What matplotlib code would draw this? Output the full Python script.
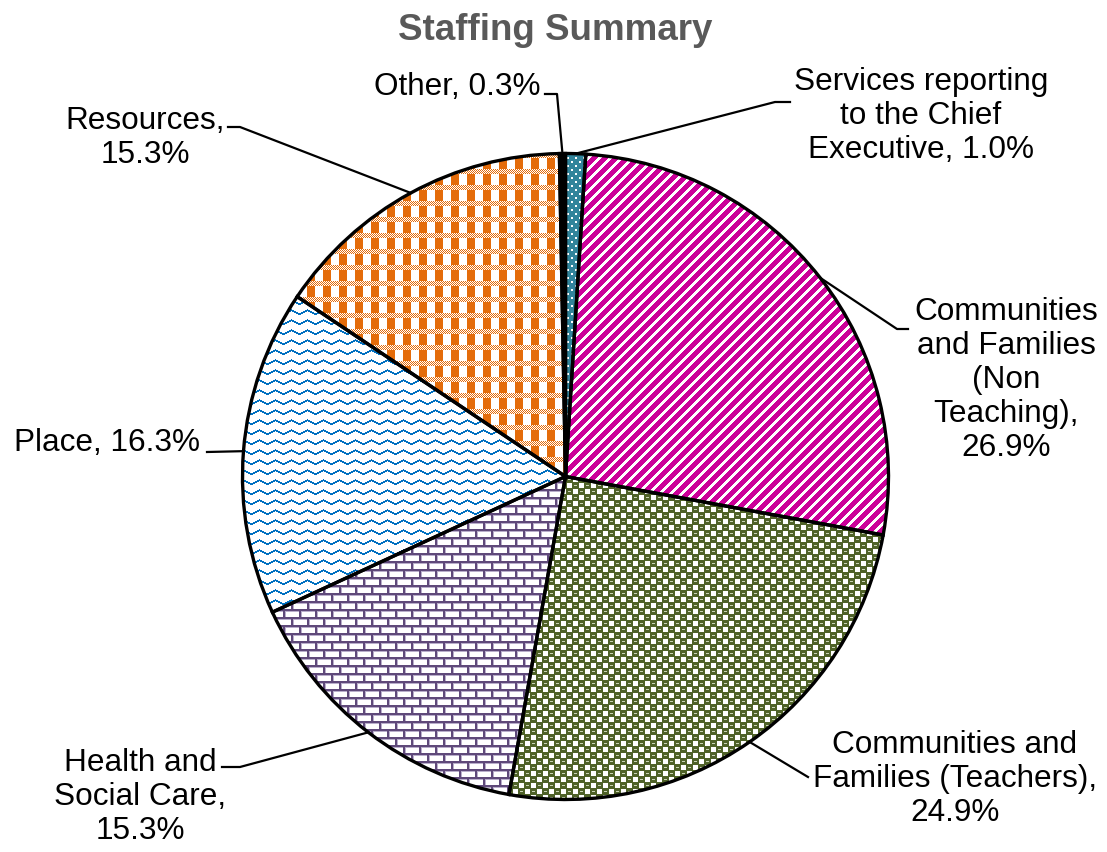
import numpy as np
import matplotlib.pyplot as plt
from matplotlib.colors import to_rgb

plt.rcParams['font.family'] = ['Liberation Sans', 'DejaVu Sans']

# data (clockwise from 12 o'clock)
names = ["Services reporting\nto the Chief\nExecutive", "Communities\nand Families\n(Non\nTeaching)",
         "Communities and\nFamilies (Teachers)", "Health and\nSocial Care", "Place", "Resources", "Other"]
shares = [1.0, 26.9, 24.9, 15.3, 16.3, 15.3, 0.3]
seps = [" ", "\n", "\n", "\n", " ", "\n", " "]
colors = ["#31849B", "#CC0099", "#4F6228", "#5F497A", "#0070C0", "#E46C0A", "#000000"]

W, H = 1107, 853
CX, CY, R = 565.5, 477.5, 323.0   # pie centre / radius in pixels

fig = plt.figure(figsize=(W / 100, H / 100), dpi=100)
ax = fig.add_axes([(CX - 1.3 * R) / W, (H - CY - 1.3 * R) / H, 2.6 * R / W, 2.6 * R / H])


def px(x, y):
    # pixel position -> data coords of the pie axes
    return (x - CX) / R, (CY - y) / R


# textures, one pixel per array cell
N = int(2 * R)
i, j = np.mgrid[0:N, 0:N]


def tex(mask, col, light=None, lcol=None):
    img = np.ones((N, N, 3))
    img[mask] = to_rgb(col)
    if light is not None:
        img[light & ~mask] = to_rgb(lcol)
    return img


dots = ((i % 8 < 2) & (j % 8 < 2)) | (((i + 4) % 8 < 2) & ((j + 4) % 8 < 2))
stripes = (i + j) % 11 < 7
# green: white squares on a green checker, green slightly dominant
white_sq = (((i // 6) + (j // 6)) % 2 == 1) & (i % 6 < 5) & (j % 6 < 5)
chk_dash = ~white_sq & (i % 6 == 2) & (j % 6 >= 1) & (j % 6 <= 3)
row = i // 8
mortar = (i % 8 < 2) | ((j + (row % 2) * 8) % 16 < 2)
shadow = (i % 8 == 2) | ((j + (row % 2) * 8) % 16 == 2)
tri = np.abs((j % 16) - 8) / 8 * 4
wave = (i + tri) % 10 < 2
plaid = ((j % 16) < 8) & ~((i % 16) < 5)
plaid = plaid | (((i % 16) < 5) & ((i + j) % 2 == 0))

textures = [
    tex(~dots, colors[0]),
    tex(stripes, colors[1]),
    tex(~white_sq & ~chk_dash, colors[2], chk_dash, "#C9D3B5"),
    tex(mortar, colors[3], shadow, "#B9AECB"),
    tex(wave, colors[4]),
    tex(plaid, colors[5]),
    tex(np.ones((N, N), bool), colors[6]),
]

wedges, _ = ax.pie(shares, startangle=90, counterclock=False, radius=1,
                   wedgeprops=dict(facecolor="none", edgecolor="black", linewidth=2.4, zorder=3))

for w, t in zip(wedges, textures):
    im = ax.imshow(t, extent=(-1, 1, -1, 1), interpolation="nearest", zorder=1)
    im.set_clip_path(w)

ax.set_xlim(-1.3, 1.3)
ax.set_ylim(-1.3, 1.3)
ax.set_aspect("equal")
ax.axis("off")

# labels: text anchor (px), alignment, leader path after rim point (px)
lab_pos = [
    (921, 116, "center", [(775, 103), (790, 103)]),
    (1006, 380, "center", [(897, 330), (908, 330)]),
    (955, 779, "center", [(808, 778)]),
    (140, 797, "center", [(240, 768), (222, 768)]),
    (200, 443, "right", [(207, 453)]),
    (145, 138, "center", [(240, 128), (228, 128)]),
    (540, 87, "right", [(557, 95), (545, 95)]),
]

for w, name, s, sep, (tx, ty, ha, path) in zip(wedges, names, shares, seps, lab_pos):
    mid = np.deg2rad((w.theta1 + w.theta2) / 2)
    xs = [np.cos(mid)] + [px(*p)[0] for p in path]
    ys = [np.sin(mid)] + [px(*p)[1] for p in path]
    ax.plot(xs, ys, color="black", lw=1.6, clip_on=False, zorder=4)
    x, y = px(tx, ty)
    ax.text(x, y, f"{name},{sep}{s:.1f}%", ha=ha, va="center", multialignment="center",
            fontsize=22.7, color="black", linespacing=1.18, clip_on=False)

fig.text(555 / W, 1 - 31 / H, "Staffing Summary", ha="center", va="center",
         fontsize=26.5, fontweight="bold", color="#595959")

fig.savefig("out.png", dpi=100)
